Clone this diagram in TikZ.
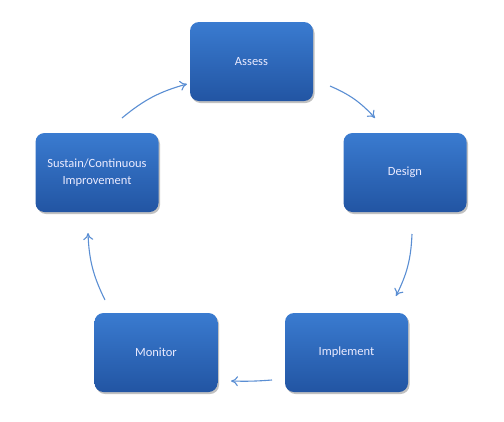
\documentclass[tikz,border=0pt]{standalone}
\usepackage{fontspec}
\setmainfont{Carlito}
\usetikzlibrary{shadows,arrows.meta}
\definecolor{boxtop}{HTML}{3A7BD0}
\definecolor{boxbot}{HTML}{2255A3}
\definecolor{arrowc}{HTML}{5A8ED3}
\tikzset{
  stepbox/.style={rounded corners=9pt, minimum width=123pt, minimum height=79pt,
    top color=boxtop, bottom color=boxbot, draw=none,
    drop shadow={shadow xshift=1.5pt, shadow yshift=-2pt, opacity=0.35, fill=black!70},
    text=white!92!blue, font=\fontsize{12.5}{17}\selectfont, align=center},
  cyc/.style={draw=arrowc, line width=1.1pt, -{To[length=7pt,width=10pt]}}
}
\begin{document}
\begin{tikzpicture}[x=1pt,y=-1pt]
\useasboundingbox (0,0) rectangle (504,421);
\node[stepbox] (assess) at (251.5,61.5) {Assess};
\node[stepbox] (design) at (405,172.5) {Design};
\node[stepbox] (impl) at (346.5,352.5) {Implement};
\node[stepbox] (mon) at (156,352.5) {Monitor};
\node[stepbox] (sus) at (97,172.5) {Sustain/Continuous\\Improvement};
\coordinate (a1) at (122,118); \coordinate (a2) at (187,84);
\coordinate (b1) at (330,86); \coordinate (b2) at (375,118);
\coordinate (c1) at (412,234); \coordinate (c2) at (396,296);
\coordinate (d1) at (272,380); \coordinate (d2) at (231,381);
\coordinate (e1) at (105,300); \coordinate (e2) at (88,233);
\draw[cyc] (a1) to[bend left=12] (a2);
\draw[cyc] (b1) to[bend left=12] (b2);
\draw[cyc] (c1) to[bend left=12] (c2);
\draw[cyc] (d1) to[bend left=3] (d2);
\draw[cyc] (e1) to[bend left=12] (e2);
\end{tikzpicture}
\end{document}
